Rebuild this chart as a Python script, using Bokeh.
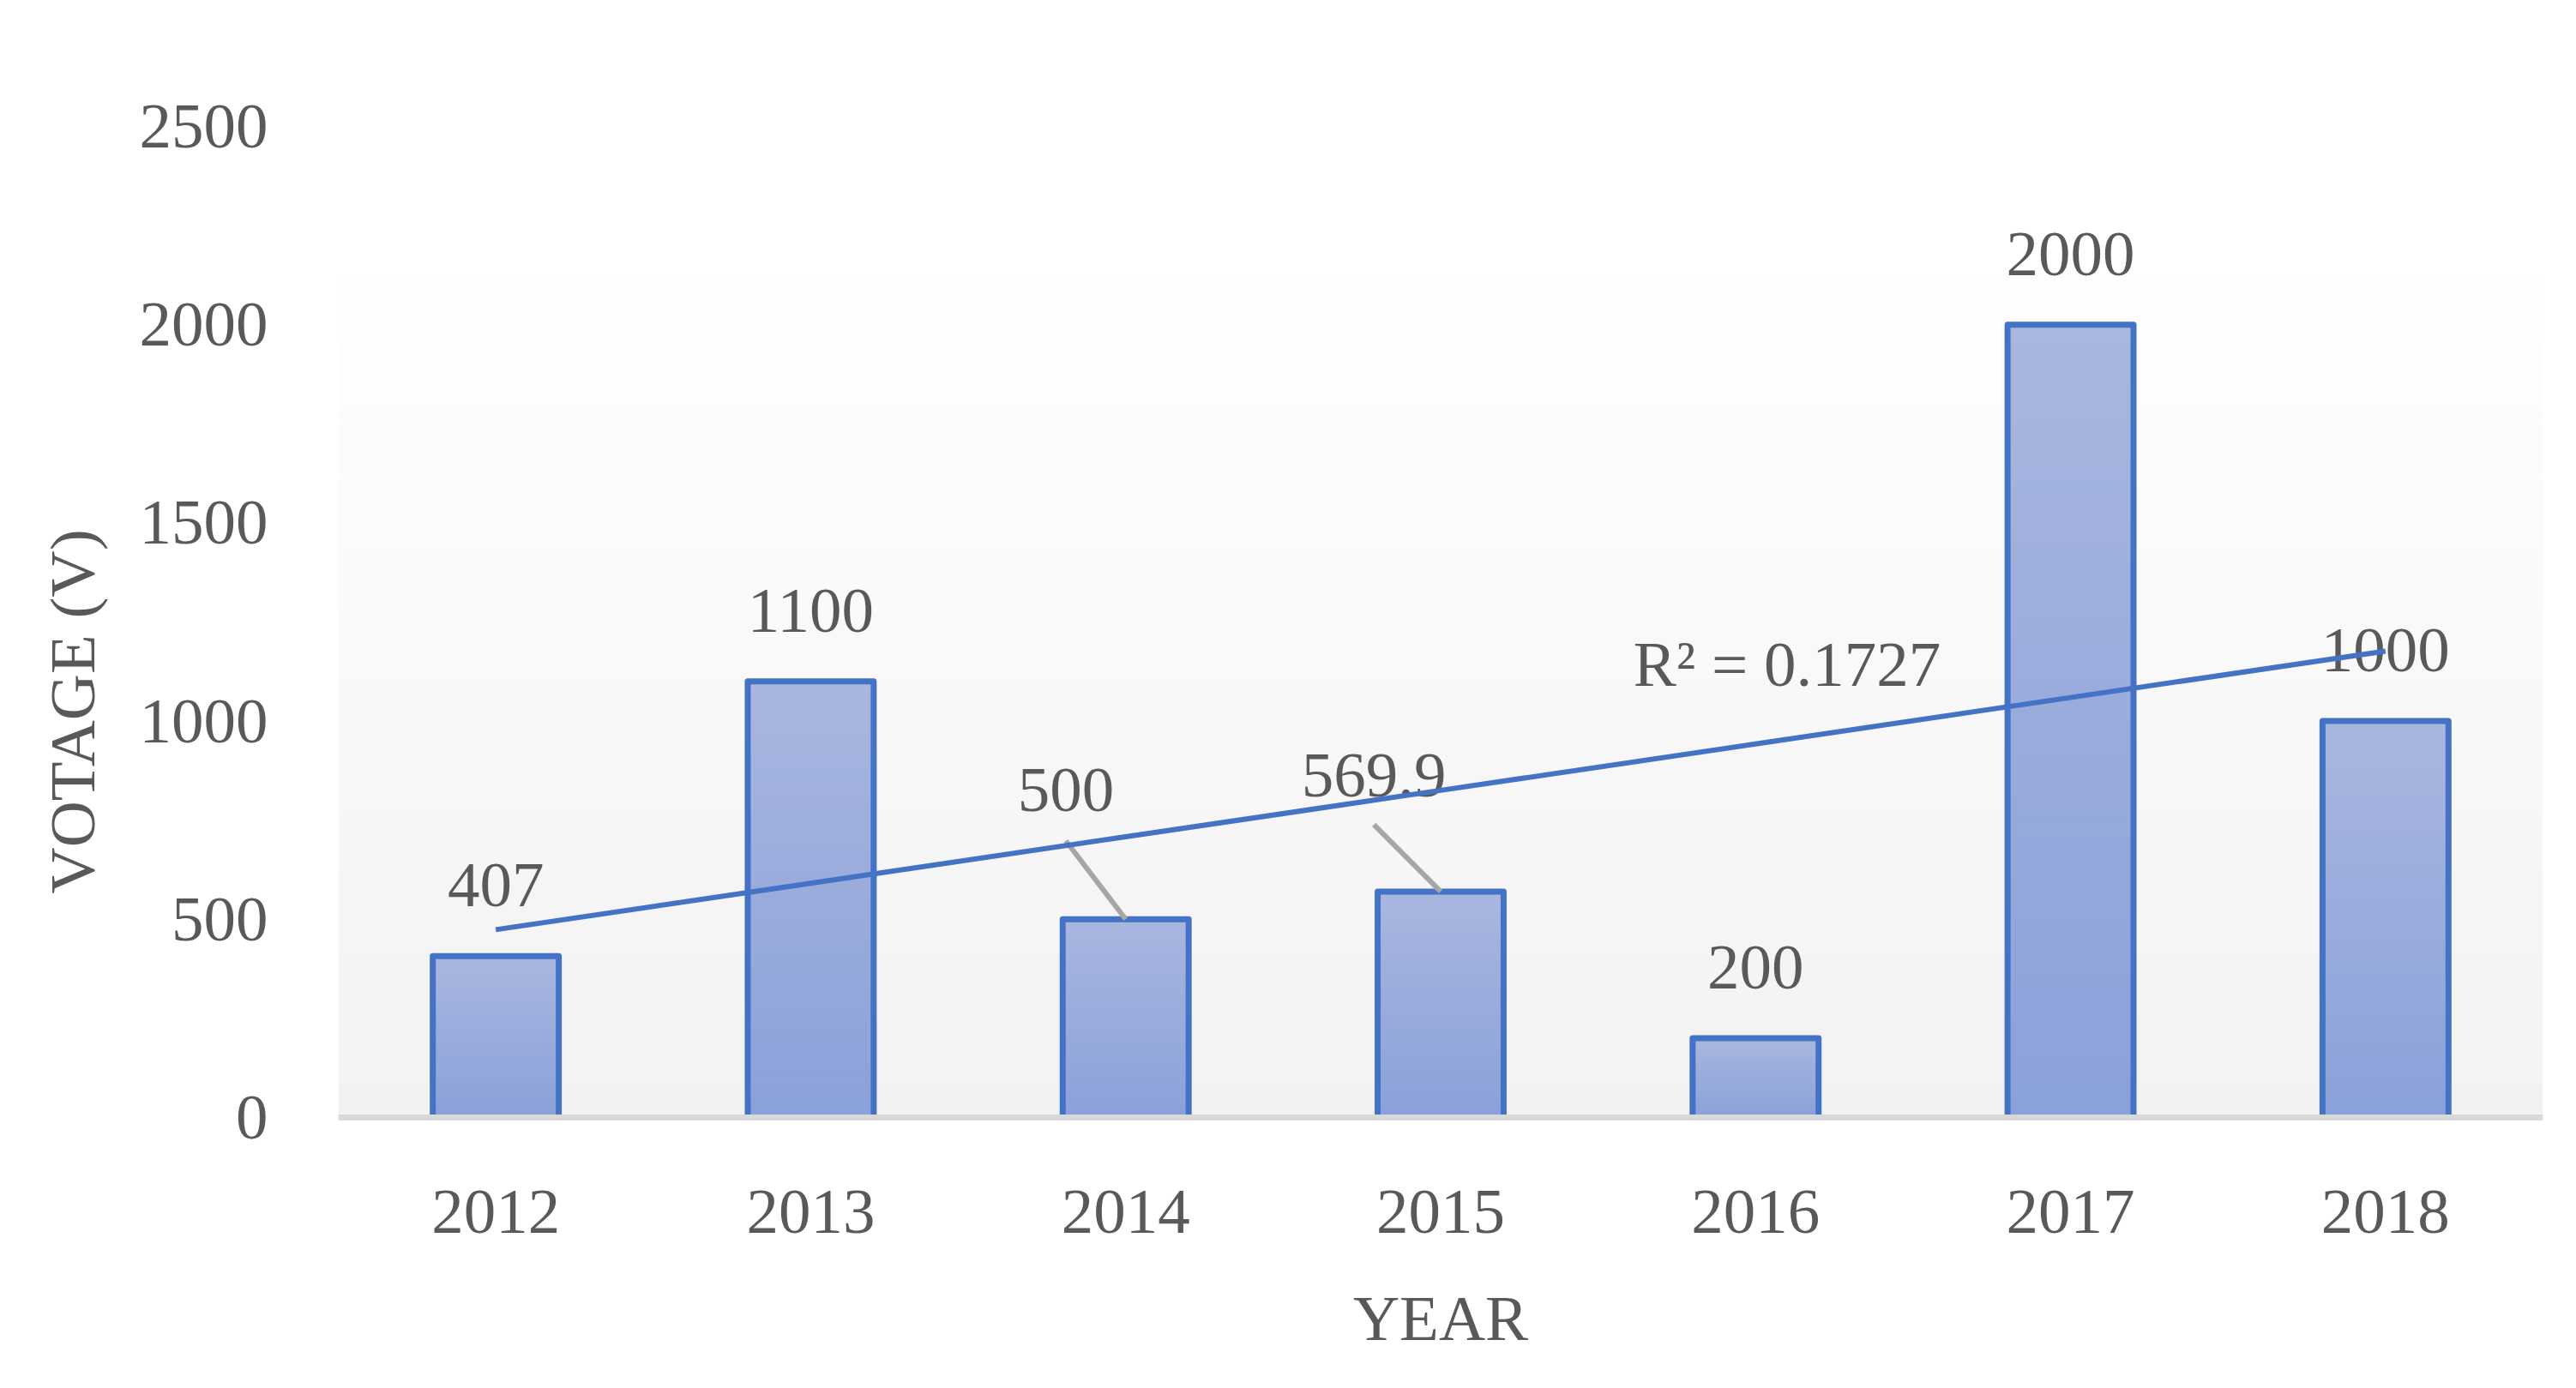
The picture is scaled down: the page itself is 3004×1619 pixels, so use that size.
import numpy as np
from bokeh.plotting import figure
from bokeh.models import FactorRange, Range1d, FixedTicker, ColumnDataSource, Title
from bokeh.embed import file_html
from bokeh.resources import INLINE
from bokeh.core.properties import value

# ---------------- data ----------------
years = ["2012", "2013", "2014", "2015", "2016", "2017", "2018"]
voltage = [407, 1100, 500, 569.9, 200, 2000, 1000]
label_texts = ["407", "1100", "500", "569.9", "200", "2000", "1000"]
y_ticks = [0, 500, 1000, 1500, 2000, 2500]
x_title = "YEAR"
y_title = "VOTAGE (V)"

# ---------------- style ----------------
FONT = "Liberation Serif"
FS = "75px"
TXT = "#595959"
BLUE = "#4472C4"
BAR_TOP = (0xA9, 0xB6, 0xDF)
BAR_BOT = (0x8A, 0xA1, 0xD9)
BG_TOP = (0xFF, 0xFF, 0xFF)
BG_BOT = (0xF2, 0xF2, 0xF2)
BG_TOP_VALUE = 2205          # top of the shaded plot area (value units)
label_dx = [0, 0, -0.19, -0.212, 0, 0, 0]       # category units
label_dy = [178, 178, 327, 294, 178, 178, 178]   # value units above bar top
leader_dy = [0, 0, 198, 169, 0, 0, 0]            # 0 = no leader line


def mix(c0, c1, t):
    return "#%02x%02x%02x" % tuple(int(round(a + (b - a) * t)) for a, b in zip(c0, c1))


p = figure(width=2995, height=1610,
           x_range=FactorRange(factors=years, range_padding=0),
           y_range=Range1d(0, 2500),
           output_backend="svg", toolbar_location=None,
           min_border_left=394, min_border_right=30,
           min_border_top=147, min_border_bottom=307)
p.background_fill_color = "white"
p.border_fill_color = "white"
p.outline_line_color = None
p.xgrid.visible = False
p.ygrid.visible = False

# shaded plot-area gradient
n_bg = 80
edges = np.linspace(0, BG_TOP_VALUE, n_bg + 1)
bg_src = ColumnDataSource(dict(
    left=[(years[0], -0.5)] * n_bg,
    right=[(years[-1], 0.5)] * n_bg,
    bottom=list(edges[:-1]),
    top=list(np.minimum(edges[1:] + BG_TOP_VALUE / n_bg * 0.3, BG_TOP_VALUE)),
    color=[mix(BG_BOT, BG_TOP, (i + 0.5) / n_bg) for i in range(n_bg)],
))
p.quad(left="left", right="right", bottom="bottom", top="top", source=bg_src,
       fill_color="color", line_color=None)

# bars with vertical gradient
n_sl = 40
xs, bots, tops, cols = [], [], [], []
for yr, v in zip(years, voltage):
    e = np.linspace(0, v, n_sl + 1)
    for i in range(n_sl):
        xs.append(yr)
        bots.append(float(e[i]))
        tops.append(float(min(e[i + 1] + v / n_sl * 0.3, v)))
        cols.append(mix(BAR_BOT, BAR_TOP, (i + 0.5) / n_sl))
p.vbar(x=xs, bottom=bots, top=tops, width=0.4, fill_color=cols, line_color=None)
p.vbar(x=years, top=voltage, width=0.4, fill_alpha=0, line_color=BLUE,
       line_width=7, line_join="round")

# data labels
lab_src = ColumnDataSource(dict(
    x=[(yr, dx) for yr, dx in zip(years, label_dx)],
    y=[v + dy for v, dy in zip(voltage, label_dy)],
    text=label_texts,
))
p.text(x="x", y="y", text="text", source=lab_src, text_font=value(FONT),
       text_font_size=FS, text_color=TXT, text_align="center", text_baseline="middle")

# leader lines
ld = [(yr, dx, v, dy) for yr, dx, v, dy in zip(years, label_dx, voltage, leader_dy) if dy > 0]
p.segment(x0=[(a[0], a[1]) for a in ld], y0=[a[2] + a[3] for a in ld],
          x1=[a[0] for a in ld], y1=[a[2] for a in ld],
          line_color="#A6A6A6", line_width=6)

# linear trendline
xi = np.arange(len(years))
slope, intercept = np.polyfit(xi, voltage, 1)
fit = slope * xi + intercept
vv = np.array(voltage)
r2 = 1 - np.sum((vv - fit) ** 2) / np.sum((vv - vv.mean()) ** 2)
p.line(x=years, y=list(fit), line_color=BLUE, line_width=6)
p.text(x=[("2016", 0.1)], y=[1143], text=[f"R\u00b2 = {r2:.4f}"], text_font=value(FONT),
       text_font_size=FS, text_color=TXT, text_align="center", text_baseline="middle")

# axes
p.yaxis.ticker = FixedTicker(ticks=y_ticks)
p.yaxis.axis_line_color = None
p.yaxis.major_tick_line_color = None
p.yaxis.minor_tick_line_color = None
p.yaxis.major_label_standoff = 76

p.xaxis.axis_line_color = "#D9D9D9"
p.xaxis.axis_line_width = 7
p.xaxis.major_tick_line_color = None
p.xaxis.minor_tick_line_color = None
p.xaxis.major_label_standoff = 79
p.xaxis.axis_label = x_title
p.xaxis.axis_label_standoff = 55

for ax in (p.xaxis, p.yaxis):
    ax.major_label_text_font = FONT
    ax.major_label_text_font_size = FS
    ax.major_label_text_color = TXT
    ax.axis_label_text_font = FONT
    ax.axis_label_text_font_size = FS
    ax.axis_label_text_color = TXT
    ax.axis_label_text_font_style = "normal"

# y-axis title, placed (as in the reference) a little below the frame centre
p.add_layout(Title(text=y_title, align="left", offset=261, standoff=68,
                   text_font=FONT, text_font_size=FS, text_color=TXT,
                   text_font_style="normal"), "left")

open("out.html", "w").write(file_html(p, INLINE))
